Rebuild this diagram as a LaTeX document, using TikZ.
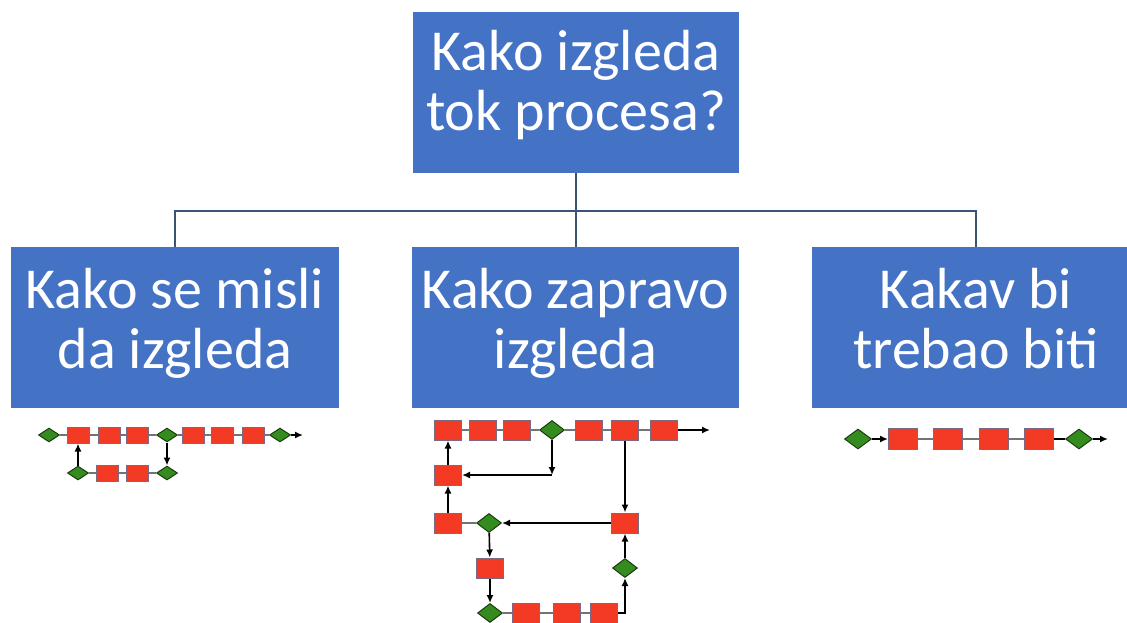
\documentclass[tikz,border=0pt]{standalone}
\usepackage{fontspec}
\setmainfont{Carlito}
\usepackage{tikz}
\usetikzlibrary{shapes.geometric, arrows.meta, positioning, calc}

\definecolor{boxblue}{HTML}{4472C4}
\definecolor{treeline}{RGB}{60,82,118}
\definecolor{stepred}{RGB}{242,58,36}
\definecolor{stepedge}{RGB}{125,105,130}
\definecolor{choicegreen}{RGB}{52,140,30}
\definecolor{choiceedge}{RGB}{30,60,20}
\definecolor{flowgray}{RGB}{115,115,115}

\tikzset{
  titlebox/.style={fill=boxblue, text=white, align=center, inner sep=0,
    text height=100, text depth=18,
    minimum width=328, minimum height=161, font=\fontsize{58}{60}\selectfont},
  treelink/.style={draw=treeline, line width=2},
  stepbox/.style={rectangle, draw=stepedge, fill=stepred, line width=1, inner sep=0,
    minimum width=\stepw, minimum height=\steph},
  choice/.style={diamond, draw=choiceedge, fill=choicegreen, line width=1, inner sep=0,
    minimum width=\choicew, minimum height=\choiceh},
  link/.style={draw=flowgray, line width=1.8},
  flowarrow/.style={draw=black, line width=1.6, -{Latex[length=8pt,width=7pt]}},
}

\begin{document}
\begin{tikzpicture}[x=1pt, y=-1pt]
\useasboundingbox (0,0) rectangle (1127,622);

% Question boxes
\node[titlebox, minimum width=326, text depth=24] (top) at (576,92.5) {Kako izgleda\\tok procesa?};
\node[titlebox] (thought) at (175,327.5) {Kako se misli\\da izgleda};
\node[titlebox, minimum width=327] (actual) at (575.5,327.5) {Kako zapravo\\izgleda};
\node[titlebox] (ideal) at (976,327.5) {Kakav bi\\trebao biti};

% Tree lines
\coordinate (bus) at (576,211);
\draw[treelink] (top.south) -- (bus) -- (bus |- actual.north);
\draw[treelink] (thought.north) |- (bus) -| (ideal.north);

% How it is thought to look
\begin{scope}
    \def\stepw{22}\def\steph{16}\def\choicew{21}\def\choiceh{14}
    \foreach \name/\x/\y in {s1/78/435, s2/109/435, s3/137/435, s4/193/435,
        s5/222/435, s6/253/435, t1/107/473, t2/137/473}
        \node[stepbox] (L\name) at (\x,\y) {};
    \foreach \name/\x/\y in {d1/49/435, d2/167/435, d3/280/435, d4/78/473, d5/167/473}
        \node[choice] (L\name) at (\x,\y) {};
    \coordinate (Lend) at (303,435);
    \foreach \a/\b in {d1/s1, s1/s2, s2/s3, s3/d2, d2/s4, s4/s5, s5/s6, s6/d3,
        d4/t1, t1/t2, t2/d5}
        \draw[link] (L\a) -- (L\b);
    \draw[flowarrow] (Ld3) -- (Lend);
    \draw[flowarrow] (Ld4) -- (Ls1);
    \draw[flowarrow] (Ld2) -- (Ld5);
\end{scope}

% How it really looks
\begin{scope}
    \def\stepw{27}\def\steph{20}\def\choicew{25}\def\choiceh{19}
    \foreach \name/\x/\y in {a1/448/430, a2/483/430, a3/517/430, a4/589/430,
        a5/625/430, a6/664/430, b1/448/475, c1/448/523, c2/625/523,
        e1/490/568, f1/526/613, f2/567/613, f3/604/613}
        \node[stepbox] (M\name) at (\x,\y) {};
    \foreach \name/\x/\y in {d1/552/430, d2/489/523, d3/625/568, d4/490/613}
        \node[choice] (M\name) at (\x,\y) {};
    \coordinate (Mturn) at (Md1 |- Mb1);
    \coordinate (Mend) at (710,430);
    \foreach \a/\b in {a1/a2, a2/a3, a3/d1, d1/a4, a4/a5, a5/a6, c1/d2,
        d4/f1, f1/f2, f2/f3}
        \draw[link] (M\a) -- (M\b);
    \draw[flowarrow] (Ma6) -- (Mend);
    \draw[flowarrow] (Md1) -- (Mturn);
    \draw[flowarrow] (Mturn) -- (Mb1);
    \draw[flowarrow] (Mb1) -- (Ma1);
    \draw[flowarrow] (Mc1) -- (Mb1);
    \draw[flowarrow] (Ma5) -- (Mc2);
    \draw[flowarrow] (Mc2) -- (Md2);
    \draw[flowarrow] (Md2) -- (Me1);
    \draw[flowarrow] (Me1) -- (Md4);
    \draw[flowarrow] (Mf3) -| (Md3);
    \draw[flowarrow] (Md3) -- (Mc2);
\end{scope}

% How it should be
\begin{scope}
    \def\stepw{29}\def\steph{21}\def\choicew{27}\def\choiceh{20}
    \foreach \name/\x in {s1/903, s2/948, s3/994, s4/1039}
        \node[stepbox] (R\name) at (\x,439) {};
    \foreach \name/\x in {d1/858, d2/1079}
        \node[choice] (R\name) at (\x,439) {};
    \coordinate (Rend) at (1108,439);
    \foreach \a/\b in {s1/s2, s2/s3, s3/s4}
        \draw[link] (R\a) -- (R\b);
    \draw[flowarrow] (Rd1) -- (Rs1);
    \draw[flowarrow, -] (Rs4) -- (Rd2);
    \draw[flowarrow] (Rd2) -- (Rend);
\end{scope}
\end{tikzpicture}
\end{document}
